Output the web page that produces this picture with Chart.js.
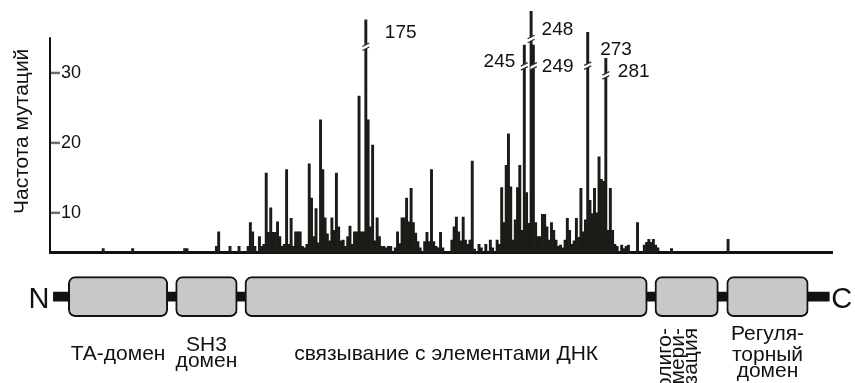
<!DOCTYPE html>
<html><head><meta charset="utf-8">
<script src="https://cdn.jsdelivr.net/npm/chart.js@4.4.1/dist/chart.umd.min.js"></script>
<style>
html,body{margin:0;padding:0;background:#fff;overflow:hidden}
#wrap{position:relative;width:855px;height:383px}
canvas{display:block}
</style></head><body>
<div id="wrap">
<canvas id="hist" width="855" height="260"></canvas>
<canvas id="domains" width="855" height="123"></canvas>
</div>
<script>
// ---- data ----
const residues = [59,72,95,96,109,110,115,119,123,124,125,126,128,129,130,131,132,133,134,135,136,137,138,139,140,141,142,143,144,145,146,147,148,149,150,151,152,153,154,155,156,157,158,159,160,161,162,163,164,165,166,167,168,169,170,171,172,173,174,175,176,177,178,179,180,181,182,183,184,185,186,188,189,190,191,192,193,194,195,196,197,198,199,201,202,203,204,205,206,207,208,209,213,214,215,216,217,218,219,220,221,222,223,225,226,228,230,231,233,234,235,236,237,238,239,240,241,242,243,244,245,246,247,248,249,250,251,252,253,254,255,256,257,258,259,260,261,262,263,264,265,266,267,268,269,270,271,272,273,274,275,276,277,278,279,280,281,282,283,284,285,286,288,289,290,291,295,298,299,300,301,302,303,304,310,335];
const counts = [4.9,4.9,4.9,4.9,5.2,7.3,5.2,5.2,5.2,8.6,7.3,5.2,6.6,5.2,5.5,15.7,7.2,10.7,7.2,7.2,8.7,6.6,5.2,5.5,16.2,5.5,9.2,5.2,7.3,7.3,7.3,5.2,5.0,5.5,17.0,12.1,6.6,10.6,5.7,23.3,16.2,9.3,7.0,6.0,9.3,7.5,15.7,8.0,6.0,6.1,5.2,6.6,8.1,5.5,7.3,7.3,26.7,7.3,7.3,37.6,23.3,8.0,19.7,6.0,9.3,6.6,5.2,5.2,5.0,5.2,5.2,5.0,7.3,5.6,9.3,9.3,12.1,8.7,13.5,8.6,7.1,5.9,5.0,5.9,7.2,5.9,16.2,5.9,5.2,5.0,7.2,5.0,6.1,8.0,9.4,7.3,6.0,9.4,6.1,5.5,6.1,17.4,4.8,5.5,5.0,5.5,6.1,5.0,6.1,5.5,13.6,8.6,16.8,21.3,13.7,6.1,9.0,13.6,16.8,7.5,34.0,12.9,8.5,38.8,34.0,8.6,6.6,6.6,9.8,9.8,8.0,6.1,8.6,7.5,6.1,5.2,5.4,5.0,6.1,9.2,7.5,5.5,6.0,9.2,6.5,13.5,7.3,9.0,35.8,11.8,9.9,13.5,10.0,18.0,14.8,14.5,32.1,7.5,13.5,7.5,5.5,5.2,5.4,4.9,5.2,5.4,8.6,5.4,5.8,6.2,5.8,6.2,5.4,5.0,4.9,6.2];
const yTicks = [10, 20, 30];
const peakResidues = [175, 245, 248, 249, 273, 281];
const peakLabels = ['175', '245', '248', '249', '273', '281'];
const breakValues = [34.0, 31.2, 35.1, 31.2, 31.3, 29.9];
const domainLabels = [['ТА-домен'], ['SH3', 'домен'], ['связывание с элементами ДНК'], ['олиго-', 'мери-', 'зация'], ['Регуля-', 'торный', 'домен']];
const domainStart = [43.6, 91.0, 121.6, 302.7, 334.4];
const domainEnd = [87.5, 118.2, 299.3, 330.7, 370.4];
const chainRange = [37.0, 379.7];
const terminusLabels = ['N', 'C'];

// ---- axis ranges and styling ----
const xMin = 35.5, xMax = 380.9;
const yMin = 4.3, yMax = 39, yAxisTop = 35.1;
const FONT = '"Liberation Sans", Arial, Helvetica, sans-serif';
Chart.defaults.font.family = FONT;
Chart.defaults.color = '#111';

// label placement (pixel offsets / baseline values), not data
const peakLabelPlacement = [
  {dx: 19, align: 'left', yv: 34.94},
  {dx: -9, align: 'right', yv: 30.90},
  {dx: 10.5, align: 'left', yv: 35.43},
  {dx: 8.5, align: 'left', yv: 30.18},
  {dx: 12.5, align: 'left', yv: 32.57},
  {dx: 12, align: 'left', yv: 29.46}
];

const histDecor = {
  id: 'histDecor',
  afterDatasetsDraw(chart) {
    const {ctx, chartArea, scales: {x, y}} = chart;
    ctx.save();
    // y axis line
    ctx.strokeStyle = '#111'; ctx.lineWidth = 2;
    ctx.beginPath();
    ctx.moveTo(chartArea.left, y.getPixelForValue(yAxisTop));
    ctx.lineTo(chartArea.left, chartArea.bottom + 1);
    ctx.stroke();
    // inner tick marks
    ctx.strokeStyle = '#6b7078'; ctx.lineWidth = 2.5;
    y.ticks.forEach(t => {
      const py = y.getPixelForValue(t.value);
      ctx.beginPath(); ctx.moveTo(chartArea.left + 1, py); ctx.lineTo(chartArea.left + 10, py); ctx.stroke();
    });
    // break marks on clipped peaks
    peakResidues.forEach((r, i) => {
      const bx = x.getPixelForValue(r), by = y.getPixelForValue(breakValues[i]);
      ctx.fillStyle = '#fff';
      ctx.beginPath();
      ctx.moveTo(bx - 3, by + 1.5); ctx.lineTo(bx + 3, by - 1.5);
      ctx.lineTo(bx + 3, by + 2); ctx.lineTo(bx - 3, by + 5);
      ctx.closePath(); ctx.fill();
      ctx.strokeStyle = '#333'; ctx.lineWidth = 1.3;
      ctx.beginPath();
      ctx.moveTo(bx - 3.5, by + 1.5); ctx.lineTo(bx + 3.5, by - 2);
      ctx.moveTo(bx - 3.5, by + 5.5); ctx.lineTo(bx + 3.5, by + 2);
      ctx.stroke();
    });
    // peak labels
    ctx.fillStyle = '#111';
    ctx.font = '19px ' + FONT;
    ctx.textBaseline = 'alphabetic';
    peakResidues.forEach((r, i) => {
      const p = peakLabelPlacement[i];
      ctx.textAlign = p.align;
      ctx.fillText(peakLabels[i], x.getPixelForValue(r) + p.dx, y.getPixelForValue(p.yv));
    });
    ctx.restore();
  }
};

new Chart(document.getElementById('hist'), {
  type: 'bar',
  data: {
    datasets: [{
      label: 'Частота мутаций',
      data: residues.map((r, i) => ({x: r, y: counts[i]})),
      backgroundColor: '#1a1c18',
      borderWidth: 0,
      barPercentage: 1,
      categoryPercentage: 1,
      base: yMin
    }]
  },
  options: {
    responsive: false,
    animation: false,
    layout: {padding: {left: 0, right: 23, top: 10, bottom: 7.3}},
    scales: {
      x: {
        type: 'linear', min: xMin, max: xMax, offset: false,
        grid: {display: false, drawTicks: false},
        border: {display: true, color: '#111', width: 3},
        ticks: {display: false},
        afterFit: s => { s.height = 0; s.paddingLeft = 0; s.paddingRight = 0; }
      },
      y: {
        type: 'linear', min: yMin, max: yMax,
        afterBuildTicks: s => { s.ticks = yTicks.map(v => ({value: v})); },
        afterFit: s => { s.width = 50; s.paddingTop = 0; s.paddingBottom = 0; },
        grid: {display: false, drawTicks: false},
        border: {display: false},
        ticks: {mirror: true, padding: 11, color: '#111', font: {size: 18}},
        title: {display: true, text: 'Частота мутаций', color: '#111', font: {size: 21}, padding: {top: 10, bottom: 16}}
      }
    },
    plugins: {legend: {display: false}, tooltip: {enabled: false}}
  },
  plugins: [histDecor]
});

// ---- domain diagram ----
const domainTextPlacement = [
  {baselines: [100]},
  {baselines: [90.7, 106.7]},
  {baselines: [100]},
  {rotated: true, offsets: [-15.4, -2.7, 10], endY: 68},
  {baselines: [80, 100.7, 117.3]}
];

const domainDecor = {
  id: 'domainDecor',
  afterDatasetsDraw(chart) {
    const {ctx, scales: {x}} = chart;
    ctx.save();
    ctx.fillStyle = '#111';
    ctx.textBaseline = 'alphabetic';
    ctx.font = '29px ' + FONT;
    ctx.textAlign = 'right';
    ctx.fillText(terminusLabels[0], x.getPixelForValue(chainRange[0]) - 4, 47.5);
    ctx.textAlign = 'left';
    ctx.fillText(terminusLabels[1], x.getPixelForValue(chainRange[1]) + 2, 48.3);
    ctx.font = '21px ' + FONT;
    domainLabels.forEach((lines, i) => {
      const cx = x.getPixelForValue((domainStart[i] + domainEnd[i]) / 2);
      const p = domainTextPlacement[i];
      if (p.rotated) {
        lines.forEach((t, j) => {
          ctx.save();
          ctx.translate(cx + p.offsets[j], p.endY);
          ctx.rotate(-Math.PI / 2);
          ctx.textAlign = 'right';
          ctx.fillText(t, 0, 0);
          ctx.restore();
        });
      } else {
        ctx.textAlign = 'center';
        lines.forEach((t, j) => ctx.fillText(t, cx, p.baselines[j]));
      }
    });
    ctx.restore();
  }
};

new Chart(document.getElementById('domains'), {
  type: 'bar',
  data: {
    labels: ['p53'],
    datasets: [
      {
        label: 'цепь',
        data: [{x: chainRange, y: 'p53'}],
        backgroundColor: '#111',
        borderWidth: 0,
        barThickness: 9,
        order: 2
      },
      {
        label: 'домены',
        data: domainStart.map((s, i) => ({x: [s, domainEnd[i]], y: 'p53'})),
        backgroundColor: '#c8c8c8',
        borderColor: '#111',
        borderWidth: 2,
        borderRadius: 7,
        borderSkipped: false,
        barThickness: 40,
        order: 1
      }
    ]
  },
  options: {
    indexAxis: 'y',
    responsive: false,
    animation: false,
    datasets: {bar: {grouped: false}},
    layout: {padding: {left: 50, right: 23, top: 0, bottom: 49.6}},
    scales: {
      x: {type: 'linear', min: xMin, max: xMax, display: false, offset: false},
      y: {type: 'category', display: false}
    },
    plugins: {legend: {display: false}, tooltip: {enabled: false}}
  },
  plugins: [domainDecor]
});
</script>
</body></html>
